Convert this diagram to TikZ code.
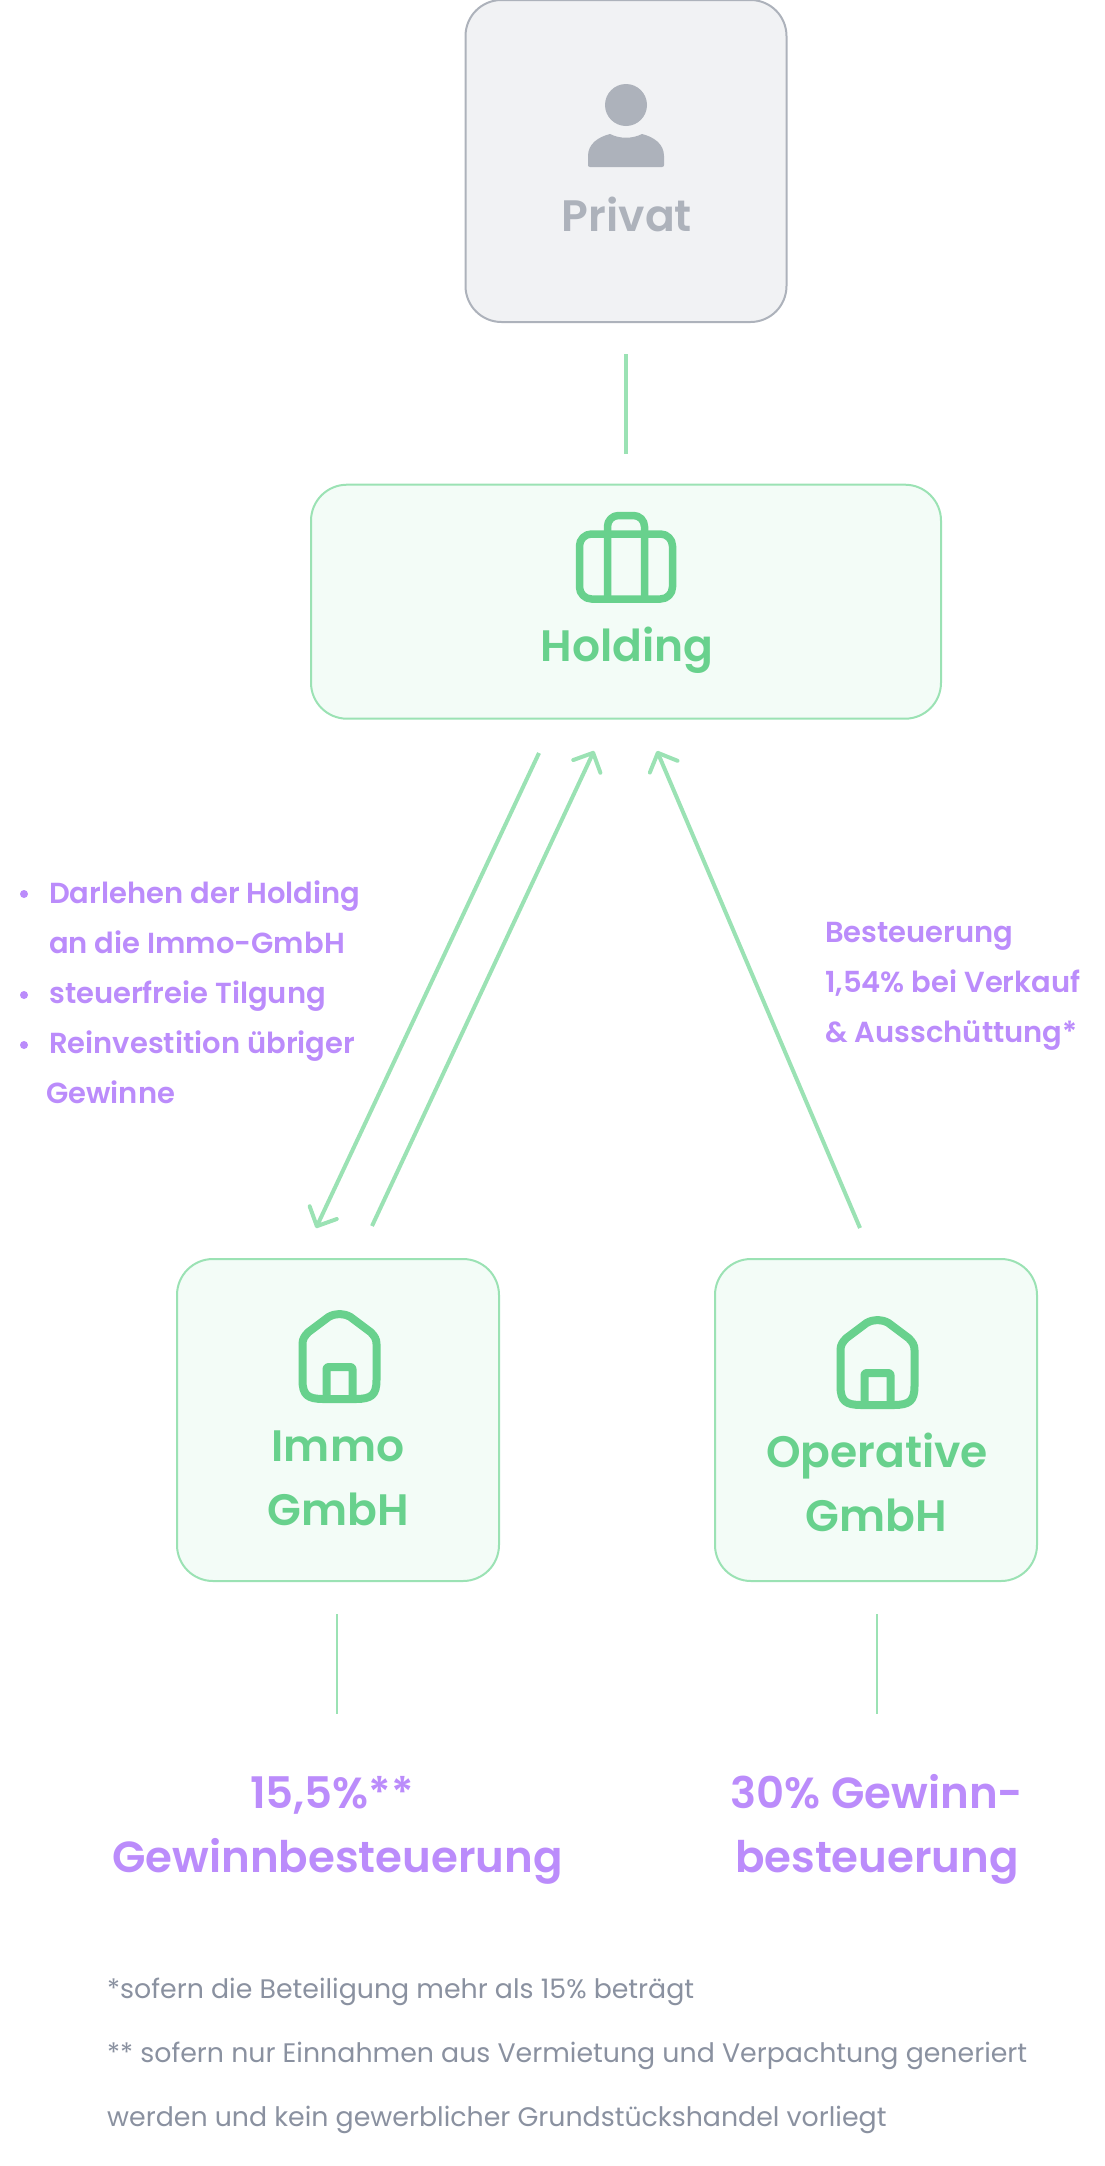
\documentclass[tikz,border=0pt]{standalone}
\usepackage{fontspec}
\setmainfont{Poppins}[BoldFont={Poppins SemiBold}]
\usetikzlibrary{arrows.meta}
\definecolor{grn}{HTML}{68D18D}
\definecolor{lgrn}{HTML}{9BE2B4}
\definecolor{pale}{HTML}{F3FCF7}
\definecolor{pur}{HTML}{BB8CFB}
\definecolor{gr}{HTML}{ADB2BB}
\definecolor{palegr}{HTML}{F1F2F4}
\definecolor{txt}{HTML}{8A91A0}
\tikzset{
 card/.style={draw=lgrn,fill=pale,line width=2pt,rounded corners=36pt,inner sep=0pt},
 conn/.style={draw=lgrn,line width=4pt},
 thinconn/.style={draw=lgrn,line width=2pt},
 arr/.style={conn,-{Straight Barb[length=15pt,width=30pt,line width=4pt,round]}},
 icon/.style={draw=grn,line width=8pt,line join=round},
 lab/.style={text=grn,font=\fontsize{44}{64}\selectfont\bfseries,inner sep=0pt,anchor=base},
 note/.style={text=pur,font=\fontsize{29}{50}\selectfont\bfseries,anchor=base west,inner sep=0pt},
 big/.style={text=pur,font=\fontsize{43.5}{64}\selectfont\bfseries,inner sep=0pt,anchor=base},
 foot/.style={text=txt,font=\fontsize{26.8}{30}\selectfont,anchor=base west,inner sep=0pt},
 house/.pic={
   \draw[icon] (-37,30) -- (-37,66) .. controls (-37,81) and (-32,85) .. (-16,85) -- (16,85) .. controls (32,85) and (37,81) .. (37,66) -- (37,30) .. controls (37,25) and (35,22) .. (31,18) -- (11,3) .. controls (4,-1) and (-4,-1) .. (-11,3) -- (-31,18) .. controls (-35,22) and (-37,25) .. (-37,30) -- cycle;
   \draw[icon,rounded corners=2pt] (-13,85) -- (-13,53) -- (13,53) -- (13,85);
 }
}
\begin{document}
\begin{tikzpicture}[x=1pt,y=-1pt]
\useasboundingbox (0,0) rectangle (1104,2166);
\node[draw=gr,fill=palegr,line width=2pt,rounded corners=36pt,minimum width=321pt,minimum height=322pt,inner sep=0pt] (privat) at (626,161) {};
\fill[gr] (626,105) circle (21pt);
\fill[gr] (590,167) .. controls (588.5,167) and (588,166) .. (588,165) -- (588,156) .. controls (588,144) and (598,137) .. (610,134) .. controls (620,139) and (632,139) .. (642,134) .. controls (654,137) and (664,144) .. (664,156) -- (664,165) .. controls (664,166) and (663.5,167) .. (662,167) -- cycle;
\node[text=gr,font=\fontsize{44}{48}\selectfont\bfseries,inner sep=0pt,anchor=base] (privatlab) at (627,231) {Privat};
\node[card,minimum width=630pt,minimum height=234pt] (holding) at (626,601.7) {};
\draw[icon,line width=7.5pt,rounded corners=12pt] (579.5,534) rectangle (672.5,599);
\draw[icon,line width=7.5pt,rounded corners=11pt] (607.5,599) -- (607.5,515.5) -- (644.5,515.5) -- (644.5,599);
\node[lab] (holdinglab) at (627,661) {Holding};
\node[card,minimum width=322pt,minimum height=322pt] (immo) at (338,1420) {};
\pic at (339.5,1314) {house};
\node[card,minimum width=322pt,minimum height=322pt] (oper) at (876,1420) {};
\pic at (877.5,1320) {house};
\node[lab] (immolab) at (338,1461) {Immo};
\node[lab] (immolab2) at (338,1525) {GmbH};
\node[lab] (oplab) at (877,1467) {Operative};
\node[lab] (oplab2) at (876,1531) {GmbH};
\coordinate (l1a) at (626,354); \coordinate (l1b) at (626,454);
\draw[conn] (l1a)--(l1b);
\coordinate (a1s) at (539,753); \coordinate (a1e) at (316,1228);
\coordinate (a2s) at (372,1226); \coordinate (a2e) at (594,751);
\coordinate (a3s) at (860,1228); \coordinate (a3e) at (657,751);
\draw[arr] (a1s)--(a1e);
\draw[arr] (a2s)--(a2e);
\draw[arr] (a3s)--(a3e);
\coordinate (b1a) at (337,1614); \coordinate (b1b) at (337,1714);
\coordinate (b2a) at (877,1614); \coordinate (b2b) at (877,1714);
\draw[thinconn] (b1a)--(b1b);
\draw[thinconn] (b2a)--(b2b);
\node[note] (n1) at (49,903) {Darlehen der Holding};
\node[note] (n2) at (49,953) {an die Immo-GmbH};
\node[note] (n3) at (49,1003) {steuerfreie Tilgung};
\node[note] (n4) at (49,1053) {Reinvestition übriger};
\node[note] (n5) at (46,1103) {Gewinne};
\fill[pur] (24,894) circle (4pt) (24,995) circle (4pt) (24,1045) circle (4pt);
\node[note] (r1) at (825,942) {Besteuerung};
\node[note] (r2) at (825,992) {1,54\% bei Verkauf};
\node[note] (r3) at (825,1042) {\& Ausschüttung*};
\node[big] (g1) at (332,1808) {15,5\%**};
\node[big] (g2) at (337.5,1872) {Gewinnbesteuerung};
\node[big] (g3) at (877,1808) {30\% Gewinn-};
\node[big] (g4) at (877,1872) {besteuerung};
\node[foot] (f1) at (107,1998) {*sofern die Beteiligung mehr als 15\% beträgt};
\node[foot] (f2) at (107,2062) {** sofern nur Einnahmen aus Vermietung und Verpachtung generiert};
\node[foot] (f3) at (107,2126) {werden und kein gewerblicher Grundstückshandel vorliegt};
\end{tikzpicture}
\end{document}
